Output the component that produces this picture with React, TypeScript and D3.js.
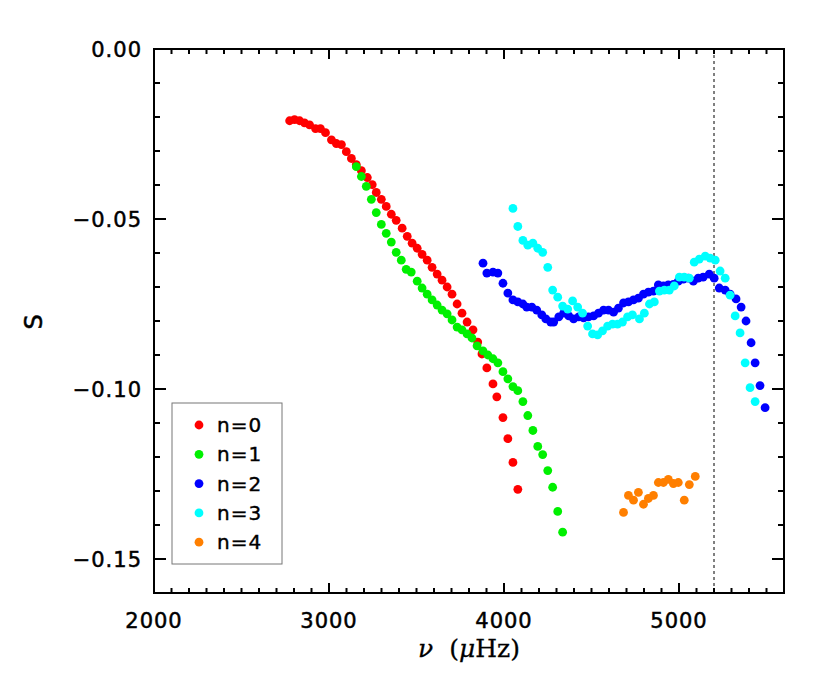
import React from "react";
import * as d3 from "d3";

// n = 0
const n0Freq = [2775, 2803, 2832, 2860, 2889, 2923, 2951, 2980, 3014, 3042, 3071, 3099, 3128, 3156, 3185, 3219, 3247, 3270, 3299, 3327, 3356, 3384, 3418, 3447, 3475, 3504, 3532, 3561, 3589, 3618, 3646, 3675, 3703, 3732, 3760, 3789, 3823, 3850, 3874, 3902, 3937, 3959, 3994, 4022, 4051, 4079];
const n0S = [-0.0211, -0.0208, -0.0211, -0.0217, -0.0223, -0.0234, -0.0234, -0.0246, -0.0267, -0.0278, -0.0281, -0.0302, -0.0322, -0.034, -0.0358, -0.0378, -0.0399, -0.0422, -0.0442, -0.0463, -0.0486, -0.0504, -0.0527, -0.0551, -0.0571, -0.0586, -0.0604, -0.0621, -0.0642, -0.0662, -0.068, -0.07, -0.0721, -0.075, -0.0777, -0.0803, -0.0826, -0.0862, -0.0897, -0.0938, -0.0985, -0.1023, -0.1084, -0.1146, -0.1216, -0.1295];

// n = 1
const n1Freq = [3156, 3185, 3213, 3242, 3270, 3299, 3327, 3356, 3384, 3413, 3441, 3470, 3504, 3532, 3561, 3589, 3618, 3646, 3675, 3703, 3732, 3760, 3789, 3817, 3846, 3880, 3908, 3937, 3965, 3994, 4022, 4051, 4079, 4108, 4136, 4165, 4193, 4221, 4250, 4278, 4307, 4335];
const n1S = [-0.0346, -0.0375, -0.0404, -0.0442, -0.0481, -0.0516, -0.0542, -0.0568, -0.0598, -0.0621, -0.0648, -0.0656, -0.0683, -0.0703, -0.0721, -0.0738, -0.0753, -0.0768, -0.0779, -0.0797, -0.0818, -0.0826, -0.0838, -0.085, -0.0873, -0.0888, -0.09, -0.0911, -0.0923, -0.0949, -0.097, -0.0993, -0.1005, -0.1037, -0.1078, -0.1122, -0.1169, -0.1193, -0.124, -0.1289, -0.136, -0.1421];

// n = 2
const n2Freq = [3880, 3902, 3937, 3965, 3994, 4022, 4051, 4079, 4108, 4130, 4159, 4187, 4216, 4239, 4267, 4284, 4313, 4341, 4370, 4398, 4427, 4455, 4483, 4512, 4540, 4569, 4597, 4626, 4654, 4683, 4711, 4740, 4768, 4797, 4825, 4854, 4882, 4911, 4939, 4968, 4996, 5025, 5053, 5082, 5110, 5138, 5173, 5201, 5230, 5264, 5292, 5326, 5355, 5383, 5412, 5435, 5463, 5492];
const n2S = [-0.063, -0.0659, -0.0656, -0.0659, -0.0689, -0.0718, -0.0738, -0.0744, -0.075, -0.0759, -0.0759, -0.0768, -0.0782, -0.0794, -0.0803, -0.0803, -0.0788, -0.0777, -0.0785, -0.0794, -0.0788, -0.0791, -0.0788, -0.0785, -0.0777, -0.0768, -0.0768, -0.0774, -0.0762, -0.0747, -0.0744, -0.0738, -0.0733, -0.0721, -0.0715, -0.0712, -0.0694, -0.0697, -0.0694, -0.0692, -0.0683, -0.0677, -0.0674, -0.0683, -0.0674, -0.0671, -0.0662, -0.0674, -0.0703, -0.0709, -0.0721, -0.0735, -0.0759, -0.08, -0.0864, -0.0923, -0.099, -0.1055];

// n = 3
const n3Freq = [4051, 4079, 4108, 4136, 4165, 4193, 4221, 4250, 4278, 4307, 4335, 4364, 4392, 4421, 4449, 4478, 4506, 4535, 4563, 4592, 4620, 4649, 4677, 4706, 4734, 4774, 4802, 4831, 4859, 4888, 4916, 4945, 4973, 5002, 5030, 5059, 5087, 5116, 5150, 5178, 5207, 5235, 5264, 5292, 5321, 5349, 5378, 5406, 5435];
const n3S = [-0.0469, -0.0522, -0.0563, -0.0577, -0.0571, -0.0586, -0.0598, -0.0642, -0.0709, -0.073, -0.0756, -0.0765, -0.0741, -0.0759, -0.0777, -0.0815, -0.0838, -0.0841, -0.0829, -0.0815, -0.0809, -0.0809, -0.0803, -0.0788, -0.0782, -0.0794, -0.0777, -0.075, -0.0744, -0.0712, -0.0709, -0.0709, -0.0697, -0.0671, -0.0671, -0.0674, -0.0627, -0.0618, -0.0609, -0.0615, -0.0621, -0.0653, -0.0674, -0.0724, -0.0785, -0.0835, -0.0923, -0.0996, -0.1037];

// n = 4
const n4Freq = [4683, 4711, 4740, 4768, 4797, 4825, 4854, 4882, 4911, 4939, 4968, 4996, 5030, 5059, 5093];
const n4S = [-0.1363, -0.1313, -0.1327, -0.1304, -0.1339, -0.1322, -0.1313, -0.1275, -0.1275, -0.1266, -0.1278, -0.1275, -0.1327, -0.1281, -0.1257];

const seriesLabels = ["n=0", "n=1", "n=2", "n=3", "n=4"];
const seriesColors = ["#ff0000", "#00f000", "#0000ff", "#00ffff", "#ff7f00"];
const xTickValues = [2000, 3000, 4000, 5000];
const xTickLabels = ["2000", "3000", "4000", "5000"];
const yTickValues = [0, -0.05, -0.1, -0.15];
const yTickLabels = ["0.00", "\u22120.05", "\u22120.10", "\u22120.15"];
const markerFreq = 5200;

export default function App() {
  const W = 830;
  const H = 691;
  const L = 154, R = 784, T = 49, B = 593;
  const x = d3.scaleLinear().domain([2000, 5600]).range([L, R]);
  const y = d3.scaleLinear().domain([-0.16, 0]).range([B, T]);

  const series = [
    { f: n0Freq, s: n0S },
    { f: n1Freq, s: n1S },
    { f: n2Freq, s: n2S },
    { f: n3Freq, s: n3S },
    { f: n4Freq, s: n4S },
  ];

  const xMinor = d3.range(20, 57).map((i) => i * 100);
  const yMinor = d3.range(0, 17).map((i) => -i / 100);
  const isXMajor = (v: number) => v % 1000 === 0;
  const isYMajor = (i: number) => i % 5 === 0;

  const tickFont = "'DejaVu Sans', sans-serif";
  const axisColor = "#000";

  return (
    <svg
      width={W}
      height={H}
      style={{ position: "absolute", left: 0, top: 0, background: "#fff" }}
      xmlns="http://www.w3.org/2000/svg"
    >
      <rect x={0} y={0} width={W} height={H} fill="#fff" />

      {/* dashed marker */}
      <line
        x1={x(markerFreq)}
        x2={x(markerFreq)}
        y1={T}
        y2={B}
        stroke="#000"
        strokeWidth={1}
        strokeDasharray="3,3"
      />

      {/* points */}
      {series.map((sr, k) =>
        sr.f.map((f, i) => (
          <circle key={`p${k}-${i}`} cx={x(f)} cy={y(sr.s[i])} r={4.4} fill={seriesColors[k]} />
        ))
      )}

      {/* frame */}
      <rect x={L} y={T} width={R - L} height={B - T} fill="none" stroke={axisColor} strokeWidth={2} />

      {/* x ticks bottom & top */}
      {xMinor.map((v) => {
        const len = isXMajor(v) ? 10 : 5;
        const px = x(v);
        return (
          <g key={`xt${v}`}>
            <line x1={px} x2={px} y1={B} y2={B - len} stroke={axisColor} strokeWidth={2} />
            <line x1={px} x2={px} y1={T} y2={T + len} stroke={axisColor} strokeWidth={2} />
          </g>
        );
      })}
      {/* y ticks left & right */}
      {yMinor.map((v, i) => {
        const len = isYMajor(i) ? 12 : 6;
        const py = y(v);
        return (
          <g key={`yt${i}`}>
            <line x1={L} x2={L + len} y1={py} y2={py} stroke={axisColor} strokeWidth={2} />
            <line x1={R} x2={R - len} y1={py} y2={py} stroke={axisColor} strokeWidth={2} />
          </g>
        );
      })}

      {/* x tick labels */}
      {xTickValues.map((v, i) => (
        <text
          key={`xl${v}`}
          x={x(v)}
          y={628}
          textAnchor="middle"
          fontFamily={tickFont}
          fontSize={21}
          letterSpacing={1}
          stroke="#000"
          strokeWidth={0.5}
          fill="#000"
        >
          {xTickLabels[i]}
        </text>
      ))}
      {/* y tick labels */}
      {yTickValues.map((v, i) => (
        <text
          key={`yl${i}`}
          x={142}
          y={y(v) + 8}
          textAnchor="end"
          fontFamily={tickFont}
          fontSize={21}
          letterSpacing={1}
          stroke="#000"
          strokeWidth={0.5}
          fill="#000"
        >
          {yTickLabels[i]}
        </text>
      ))}

      {/* axis titles */}
      <text
        x={469}
        y={657}
        textAnchor="middle"
        fontFamily="'DejaVu Serif', serif"
        fontSize={25}
        fill="#000"
        stroke="#000"
        strokeWidth={0.3}
        xmlSpace="preserve"
      >
        <tspan fontStyle="italic">ν</tspan>
        <tspan>{"  ("}</tspan>
        <tspan fontStyle="italic">μ</tspan>
        <tspan>Hz)</tspan>
      </text>
      <text
        transform="translate(42,322) rotate(-90)"
        textAnchor="middle"
        fontFamily={tickFont}
        fontSize={24}
        stroke="#000"
        strokeWidth={0.5}
        fill="#000"
      >
        S
      </text>

      {/* legend */}
      <rect x={172} y={403} width={110} height={161} fill="#fff" stroke="#777" strokeWidth={1} />
      {seriesLabels.map((lab, i) => {
        const ly = 425 + i * 29.3;
        return (
          <g key={`lg${i}`}>
            <circle cx={199} cy={ly} r={4.4} fill={seriesColors[i]} />
            <text
              x={217}
              y={ly + 7}
              fontFamily={tickFont}
              fontSize={20}
              letterSpacing={1}
              stroke="#000"
              strokeWidth={0.4}
              fill="#000"
            >
              {lab}
            </text>
          </g>
        );
      })}
    </svg>
  );
}
